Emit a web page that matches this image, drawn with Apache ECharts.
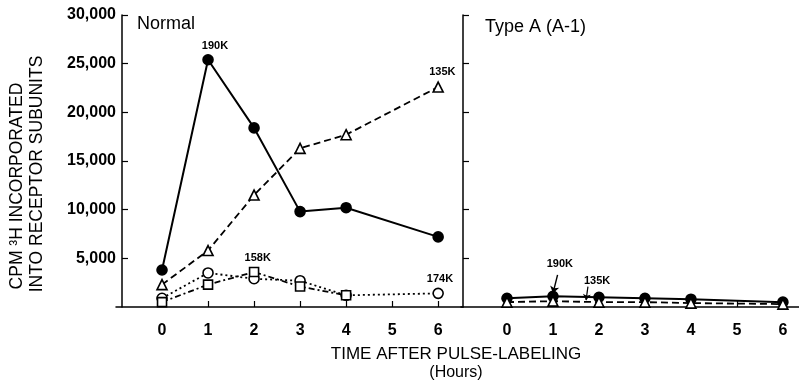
<!DOCTYPE html>
<html><head><meta charset="utf-8">
<script src="https://cdn.jsdelivr.net/npm/echarts@6/dist/echarts.min.js"></script>
<style>html,body{margin:0;padding:0;background:#fff}#c{width:799px;height:383px}</style>
</head><body><div id="c"></div>
<script>
const hours = [0, 1, 2, 3, 4, 6];
const hourTicks = [0, 1, 2, 3, 4, 5, 6];
const yTicks = [5000, 10000, 15000, 20000, 25000, 30000];
const normal190K = [3800, 25400, 18400, 9800, 10200, 7200];
const normal135K = [2300, 5800, 11500, 16300, 17700, 22600];
const normal174K = [900, 3500, 2900, 2700, 1200, 1400];
const normal158KHours = [0, 1, 2, 3, 4];
const normal158K = [500, 2300, 3600, 2100, 1200];
const typeA190K = [900, 1100, 1000, 900, 800, 500];
const typeA135K = [500, 600, 500, 500, 400, 300];

const FONT = '"Liberation Sans", Arial, sans-serif';
const pairs = (xs, ys) => xs.map((x, i) => [x, ys[i]]);
const fmt = v => v === 0 ? '' : v.toLocaleString('en-US');

function xAxis(gi, max) {
  return {
    type: 'value', gridIndex: gi, min: -1, max: max, interval: 1,
    axisLine: {show: true, onZero: false, lineStyle: {color: '#000', width: 1.5}},
    axisTick: {show: true, inside: true, length: 6, customValues: hourTicks, lineStyle: {color: '#000', width: 1.2}},
    axisLabel: {show: true, customValues: hourTicks, color: '#000', fontSize: 16, fontWeight: 'bold', fontFamily: FONT, margin: 16},
    splitLine: {show: false}
  };
}
function yAxis(gi, showLabels, offset) {
  return {
    type: 'value', gridIndex: gi, min: 0, max: 30000, interval: 5000, offset: offset,
    axisLine: {show: true, onZero: false, lineStyle: {color: '#000', width: 1.5}},
    axisTick: {show: true, inside: true, length: 6, customValues: yTicks, lineStyle: {color: '#000', width: 1.2}},
    axisLabel: {show: showLabels, customValues: yTicks, formatter: fmt, color: '#000', fontSize: 16, fontWeight: 'bold', fontFamily: FONT, margin: 6},
    splitLine: {show: false}
  };
}
const labelPt = (coord, text) => ({coord: coord, value: text});
function marks(points) {
  return {
    symbol: 'rect', symbolSize: 0, silent: true,
    label: {show: true, formatter: p => p.value, color: '#000', fontSize: 11, fontWeight: 'bold', fontFamily: FONT, position: 'inside'},
    data: points
  };
}
function series(name, xi, yi, data, symbol, filled, lineType, size, extra) {
  return Object.assign({
    name: name, type: 'line', xAxisIndex: xi, yAxisIndex: yi, data: data,
    symbol: symbol, symbolSize: size, showSymbol: true,
    lineStyle: {color: '#000', width: lineType === 'solid' ? 2 : 1.8, type: lineType},
    itemStyle: {color: filled ? '#000' : '#fff', borderColor: '#000', borderWidth: 1.6},
    animation: false, z: filled ? 3 : 4
  }, extra || {});
}

const chart = echarts.init(document.getElementById('c'));
chart.setOption({
  backgroundColor: '#fff',
  animation: false,
  grid: [
    {left: 116, top: 15, width: 347, height: 292},
    {left: 461, top: 15, width: 338, height: 292}
  ],
  xAxis: [xAxis(0, 6.54), xAxis(1, 6.35)],
  yAxis: [yAxis(0, true, -6), yAxis(1, false, -2)],
  series: [
    series('190K', 0, 0, pairs(hours, normal190K), 'circle', true, 'solid', 10, {
      markPoint: marks([labelPt([1.15, 26800], '190K')])
    }),
    series('135K', 0, 0, pairs(hours, normal135K), 'triangle', false, [7, 4], 10, {
      markPoint: marks([labelPt([6.09, 24100], '135K')])
    }),
    series('174K', 0, 0, pairs(hours, normal174K), 'circle', false, [2, 3], 10, {
      markPoint: marks([labelPt([6.04, 2900], '174K')])
    }),
    series('158K', 0, 0, pairs(normal158KHours, normal158K), 'rect', false, [6, 3, 2, 3], 9, {
      markPoint: marks([labelPt([2.08, 5050], '158K')])
    }),
    series('190K A-1', 1, 1, pairs(hours, typeA190K), 'circle', true, 'solid', 10, {
      markPoint: marks([labelPt([1.15, 4400], '190K')]),
      markLine: {
        silent: true, symbol: ['none', 'arrow'], symbolSize: 7,
        lineStyle: {color: '#000', type: 'solid', width: 1.4},
        label: {show: false},
        data: [[{coord: [1.1, 3300]}, {coord: [1.0, 1400]}]]
      }
    }),
    series('135K A-1', 1, 1, pairs(hours, typeA135K), 'triangle', false, [7, 4], 10, {
      markPoint: marks([labelPt([1.96, 2700], '135K')]),
      markLine: {
        silent: true, symbol: ['none', 'arrow'], symbolSize: 6,
        lineStyle: {color: '#000', type: 'solid', width: 1.2},
        label: {show: false},
        data: [[{coord: [1.76, 2100]}, {coord: [1.72, 700]}]]
      }
    })
  ],
  graphic: [
    {type: 'text', left: 137, top: 15, style: {text: 'Normal', font: '18px ' + FONT, fill: '#000'}},
    {type: 'text', left: 485, top: 18, style: {text: 'Type A (A-1)', font: '18px ' + FONT, fill: '#000'}},
    {type: 'text', x: 456, y: 354, style: {text: 'TIME AFTER PULSE-LABELING', font: '17px ' + FONT, fill: '#000', align: 'center', verticalAlign: 'middle'}},
    {type: 'text', x: 456, y: 373, style: {text: '(Hours)', font: '16px ' + FONT, fill: '#000', align: 'center', verticalAlign: 'middle'}},
    {type: 'text', x: 17, y: 186, rotation: Math.PI / 2, style: {text: 'CPM ³H INCORPORATED', font: '17.5px ' + FONT, fill: '#000', align: 'center', verticalAlign: 'middle'}},
    {type: 'text', x: 37, y: 174, rotation: Math.PI / 2, style: {text: 'INTO RECEPTOR SUBUNITS', font: '17.5px ' + FONT, fill: '#000', align: 'center', verticalAlign: 'middle'}}
  ]
});
</script></body></html>
